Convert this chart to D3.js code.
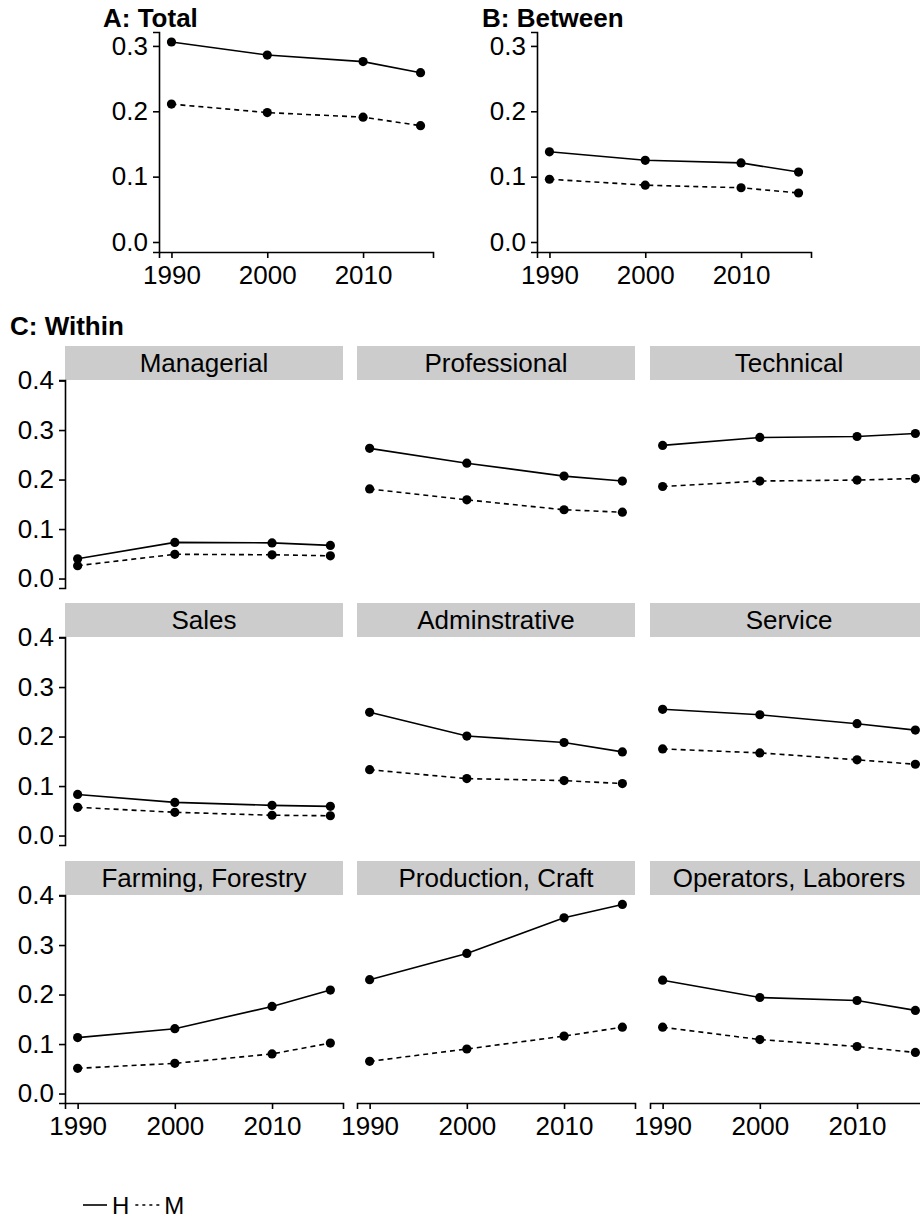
<!DOCTYPE html>
<html>
<head>
  <script src="https://d3js.org/d3.v7.min.js"></script>
  <style>
    body { margin: 0; background: #fff; }
    text { font-family: "Liberation Sans", Arial, sans-serif; fill: #000; }
  </style>
</head>
<body>
  <div id="chart"></div>

  <script>
    // values
    var years = [1990, 2000, 2010, 2016];
    var xTicks = [1990, 2000, 2010];

    var totalH = [0.306, 0.286, 0.276, 0.259];
    var totalM = [0.211, 0.198, 0.191, 0.178];
    var betweenH = [0.138, 0.125, 0.121, 0.107];
    var betweenM = [0.096, 0.087, 0.083, 0.075];
    var topTicks = [0, 0.1, 0.2, 0.3];

    var occupations = ["Managerial", "Professional", "Technical",
                       "Sales", "Adminstrative", "Service",
                       "Farming, Forestry", "Production, Craft", "Operators, Laborers"];
    var withinH = [
      [0.040, 0.073, 0.072, 0.067],
      [0.263, 0.233, 0.207, 0.197],
      [0.269, 0.285, 0.287, 0.293],
      [0.083, 0.067, 0.061, 0.059],
      [0.249, 0.201, 0.188, 0.169],
      [0.255, 0.244, 0.226, 0.213],
      [0.113, 0.131, 0.176, 0.209],
      [0.230, 0.283, 0.355, 0.382],
      [0.229, 0.194, 0.188, 0.168]
    ];
    var withinM = [
      [0.026, 0.049, 0.048, 0.046],
      [0.181, 0.159, 0.139, 0.134],
      [0.186, 0.197, 0.199, 0.202],
      [0.057, 0.047, 0.041, 0.040],
      [0.133, 0.115, 0.111, 0.105],
      [0.175, 0.167, 0.153, 0.144],
      [0.051, 0.061, 0.080, 0.102],
      [0.065, 0.090, 0.116, 0.134],
      [0.134, 0.109, 0.095, 0.083]
    ];
    var withinTicks = [0, 0.1, 0.2, 0.3, 0.4];
    var seriesNames = ["H", "M"];

    var fontSize = 26;
    var dash = "5,4";

    var svg = d3.select("#chart")
      .append("svg")
      .attr("width", 920)
      .attr("height", 1218);

    // ggplot-like 5% padding
    function padded(lo, hi) {
      var d = (hi - lo) * 0.05;
      return [lo - d, hi + d];
    }

    var xDomain = padded(d3.min(years), d3.max(years));

    function drawSeries(g, x, y, vals, dashed) {
      var pts = years.map(function(yr, i) { return [yr, vals[i]]; });
      var line = d3.line()
        .x(function(d) { return x(d[0]); })
        .y(function(d) { return y(d[1]); });
      g.append("path")
        .attr("d", line(pts))
        .attr("fill", "none")
        .attr("stroke", "#000")
        .attr("stroke-width", 1.6)
        .attr("stroke-dasharray", dashed ? dash : null);
      g.selectAll(null)
        .data(pts)
        .enter()
        .append("circle")
        .attr("cx", function(d) { return x(d[0]); })
        .attr("cy", function(d) { return y(d[1]); })
        .attr("r", 4.6)
        .attr("fill", "#000");
    }

    function styleAxis(ax) {
      ax.select(".domain").attr("stroke", "#000").attr("stroke-width", 1.6);
      ax.selectAll(".tick line").attr("stroke", "#000").attr("stroke-width", 1.6);
      ax.selectAll(".tick text")
        .attr("font-size", fontSize)
        .attr("font-family", "Liberation Sans, Arial, sans-serif")
        .attr("fill", "#000");
    }

    function xAxis(x) {
      return d3.axisBottom(x).tickValues(xTicks).tickFormat(d3.format("d"))
        .tickSizeOuter(0).tickSize(6).tickPadding(8);
    }
    function yAxis(y, ticks) {
      return d3.axisLeft(y).tickValues(ticks).tickFormat(d3.format(".1f"))
        .tickSizeOuter(0).tickSize(6).tickPadding(5);
    }

    // ---- A and B ----
    var topAll = totalH.concat(totalM, betweenH, betweenM, [0]);
    var yTop = d3.scaleLinear()
      .domain(padded(d3.min(topAll), d3.max(topAll)))
      .range([252, 32]);

    var topPanels = [
      {title: "A: Total", left: 159, titleX: 103, h: totalH, m: totalM},
      {title: "B: Between", left: 537, titleX: 482, h: betweenH, m: betweenM}
    ];

    topPanels.forEach(function(p) {
      var x = d3.scaleLinear().domain(xDomain).range([p.left, p.left + 274]);
      var g = svg.append("g");

      var ax = g.append("g")
        .attr("transform", "translate(0,252)")
        .call(xAxis(x));
      styleAxis(ax);

      var ay = g.append("g")
        .attr("transform", "translate(" + p.left + ",0)")
        .call(yAxis(yTop, topTicks));
      styleAxis(ay);

      drawSeries(g, x, yTop, p.h, false);
      drawSeries(g, x, yTop, p.m, true);

      svg.append("text")
        .attr("x", p.titleX)
        .attr("y", 27)
        .attr("font-size", fontSize)
        .attr("font-weight", "bold")
        .text(p.title);
    });

    // ---- C: Within ----
    svg.append("text")
      .attr("x", 10)
      .attr("y", 335)
      .attr("font-size", fontSize)
      .attr("font-weight", "bold")
      .text("C: Within");

    var colLeft = [65, 357, 650];
    var stripTop = [346, 603, 861];
    var panelW = 278, stripH = 34, panelH = 208;

    var withinAll = d3.merge(withinH.concat(withinM)).concat([0]);
    var yDomainC = padded(d3.min(withinAll), d3.max(withinAll));

    occupations.forEach(function(name, i) {
      var col = i % 3, row = Math.floor(i / 3);
      var left = colLeft[col], top = stripTop[row] + stripH;
      var x = d3.scaleLinear().domain(xDomain).range([left, left + panelW]);
      var y = d3.scaleLinear().domain(yDomainC).range([top + panelH, top]);
      var g = svg.append("g");

      g.append("rect")
        .attr("x", left)
        .attr("y", stripTop[row])
        .attr("width", panelW)
        .attr("height", stripH)
        .attr("fill", "#cccccc");
      g.append("text")
        .attr("x", left + panelW / 2)
        .attr("y", stripTop[row] + stripH / 2)
        .attr("dy", "0.36em")
        .attr("text-anchor", "middle")
        .attr("font-size", fontSize)
        .attr("fill", "#1a1a1a")
        .text(name);

      if (row === 2) {
        var ax = g.append("g")
          .attr("transform", "translate(0," + (top + panelH) + ")")
          .call(xAxis(x));
        styleAxis(ax);
      }
      if (col === 0) {
        var ay = g.append("g")
          .attr("transform", "translate(" + left + ",0)")
          .call(yAxis(y, withinTicks));
        styleAxis(ay);
      }

      drawSeries(g, x, y, withinH[i], false);
      drawSeries(g, x, y, withinM[i], true);
    });

    // ---- legend ----
    var legend = svg.append("g").attr("transform", "translate(83,1205)");
    var lx = 0;
    seriesNames.forEach(function(s, i) {
      legend.append("line")
        .attr("x1", lx).attr("x2", lx + 24)
        .attr("y1", 0).attr("y2", 0)
        .attr("stroke", "#000")
        .attr("stroke-width", 1.6)
        .attr("stroke-dasharray", i === 1 ? "3,4" : null);
      var t = legend.append("text")
        .attr("x", lx + 29)
        .attr("y", 0)
        .attr("dy", "0.36em")
        .attr("font-size", 24)
        .text(s);
      lx += 29 + t.node().getComputedTextLength() + 6;
    });
  </script>
</body>
</html>
